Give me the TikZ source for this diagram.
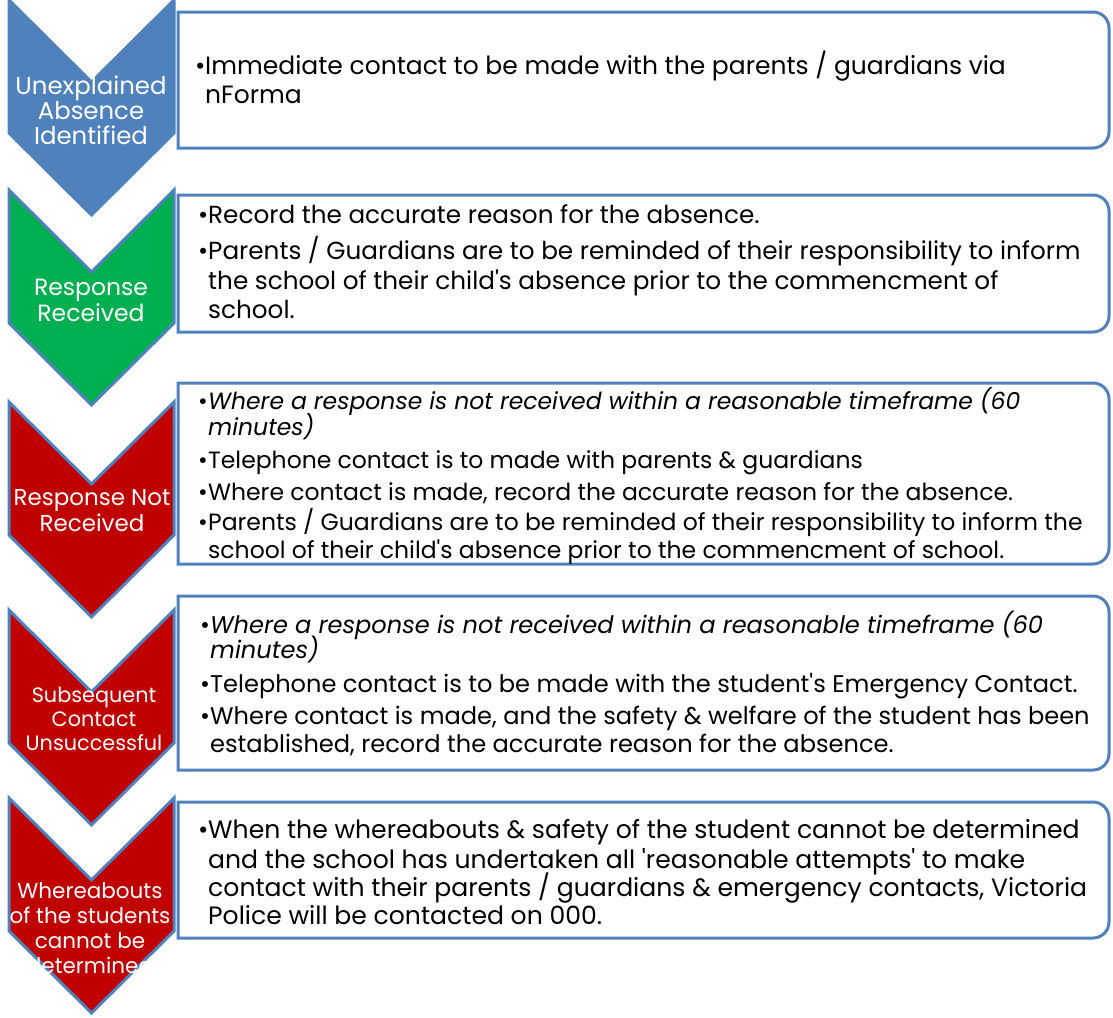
\documentclass[tikz,border=0pt]{standalone}
\usepackage{fontspec}
\setmainfont{Poppins}[Ligatures=TeXOff]
\usepackage{xcolor}
\definecolor{smartblue}{RGB}{79,129,189}
\definecolor{smartgreen}{RGB}{0,176,80}
\definecolor{smartred}{RGB}{192,0,0}
\tikzset{
chevron/.style={draw=smartblue, line width=3pt, line join=miter},
stepbox/.style={draw=smartblue, line width=3pt, fill=white},
steplabel/.style={text=white, align=center, inner sep=0pt},
line/.style={anchor=base west, inner sep=0pt, text=black},
}
\newcommand{\bul}{\makebox[10pt][l]{\textbullet}}
\newcommand{\ind}{\hspace*{10pt}}

\begin{document}
\begin{tikzpicture}[x=1pt,y=-1pt]
\useasboundingbox (0,0) rectangle (1113,1017);
% the chevrons
\foreach \top/\col in {0/smartblue,190/smartgreen,402/smartred,610/smartred,798/smartred}
{
  \filldraw[chevron,fill=\col]
    (9,\top) -- (91.5,\top+82) -- (174,\top) -- (174,\top+133)
    -- (91.5,\top+215) -- (9,\top+133) -- cycle;
}
% the boxes
\foreach \top/\bot in {12/148,195/332,383/564,596/770,802/938}
{
  \draw[stepbox] (178,\bot) -- (178,\top) [rounded corners=16pt]
    -- (1109,\top) -- (1109,\bot) [sharp corners] -- cycle;
}
% the chevron labels
\node[steplabel,font=\fontsize{24.4}{25}\selectfont] (lab1) at (91,110) {Unexplained\\Absence\\Identified};
\node[steplabel,font=\fontsize{23.5}{26}\selectfont] (lab2) at (91,300) {Response\\Received};
\node[steplabel,font=\fontsize{23}{26}\selectfont] (lab3) at (92,511) {Response Not\\Received};
\node[steplabel,font=\fontsize{20.8}{24}\selectfont] (lab4) at (94,719) {Subsequent\\Contact\\Unsuccessful};
\node[steplabel,font=\fontsize{21.5}{25}\selectfont] (lab5) at (90,928) {Whereabouts\\of the students\\cannot be\\determined};
% the box texts
\begin{scope}[font=\fontsize{25}{24}\selectfont]
\foreach \n/\y/\t in {1/74/{\bul Immediate contact to be made with the parents / guardians via},
                      2/103/{\ind nForma}}
  \node[line] (a\n) at (195,\y) {\t};
\end{scope}
\begin{scope}[font=\fontsize{24.7}{24}\selectfont]
\foreach \n/\y/\t in {1/223/{\bul Record the accurate reason for the absence.},
                      2/259/{\bul Parents / Guardians are to be reminded of their responsibility to inform},
                      3/289/{\ind the school of their child's absence prior to the commencment of},
                      4/318/{\ind school.}}
  \node[line] (b\n) at (198,\y) {\t};
\end{scope}
\begin{scope}[font=\fontsize{23.5}{24}\selectfont]
\foreach \n/\y/\t in {1/409/{\bul\itshape Where a response is not received within a reasonable timeframe (60},
                      2/435/{\ind\itshape minutes)},
                      3/468/{\bul Telephone contact is to made with parents \& guardians},
                      4/500/{\bul Where contact is made, record the accurate reason for the absence.},
                      5/530/{\bul Parents / Guardians are to be reminded of their responsibility to inform the},
                      6/558/{\ind school of their child's absence prior to the commencment of school.}}
  \node[line] (c\n) at (198,\y) {\t};
\end{scope}
\begin{scope}[font=\fontsize{24.1}{24}\selectfont]
\foreach \n/\y/\t in {1/633/{\bul\itshape Where a response is not received within a reasonable timeframe (60},
                      2/658/{\ind\itshape minutes)},
                      3/692/{\bul Telephone contact is to be made with the student's Emergency Contact.},
                      4/724/{\bul Where contact is made, and the safety \& welfare of the student has been},
                      5/752/{\ind established, record the accurate reason for the absence.}}
  \node[line] (d\n) at (200,\y) {\t};
\end{scope}
\begin{scope}[font=\fontsize{25.1}{24}\selectfont]
\foreach \n/\y/\t in {1/838/{\bul When the whereabouts \& safety of the student cannot be determined},
                      2/868/{\ind and the school has undertaken all 'reasonable attempts' to make},
                      3/896/{\ind contact with their parents / guardians \& emergency contacts, Victoria},
                      4/924/{\ind Police will be contacted on 000.}}
  \node[line] (e\n) at (198,\y) {\t};
\end{scope}
\end{tikzpicture}
\end{document}
